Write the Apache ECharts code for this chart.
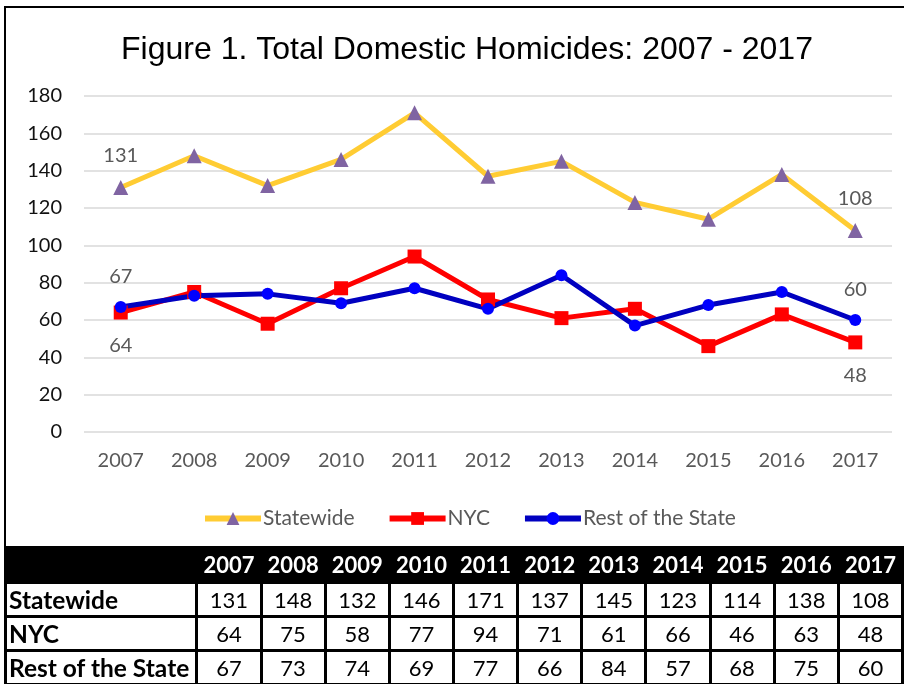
<!DOCTYPE html>
<html>
<head>
<meta charset="utf-8">
<script src="https://cdn.jsdelivr.net/npm/echarts@6/dist/echarts.min.js"></script>
<style>
  html, body { margin: 0; padding: 0; background: #fff; }
  #wrap { position: relative; width: 904px; height: 684px; overflow: hidden; }
  #chart { position: absolute; left: 0; top: 0; width: 904px; height: 684px; }
  #frame { position: absolute; left: 4px; top: 6px; width: 1000px; height: 538px;
           border: 2px solid #000; pointer-events: none; }
  #tbl { position: absolute; left: 4px; top: 546px; border-collapse: collapse;
         table-layout: fixed; font-family: Lato, "Open Sans", sans-serif; font-size: 22px; }
  #tbl td { border: 3px solid #000; height: 31px; padding: 0; text-align: center;
            color: #000; line-height: 28px; }
  #tbl tr.head td { background: #000; color: #fff; font-weight: bold; height: 32px; }
  #tbl td.name { text-align: left; font-weight: bold; padding-left: 2px; font-size: 24.5px; }
</style>
</head>
<body>
<div id="wrap">
  <div id="chart"></div>
  <div id="frame"></div>
  <table id="tbl"></table>
</div>
<script>
// ==========================
// DATA
// ==========================

const YEARS = ["2007", "2008", "2009", "2010", "2011", "2012", "2013", "2014", "2015", "2016", "2017"];
const STATEWIDE = [131, 148, 132, 146, 171, 137, 145, 123, 114, 138, 108];
const NYC = [64, 75, 58, 77, 94, 71, 61, 66, 46, 63, 48];
const REST = [67, 73, 74, 69, 77, 66, 84, 57, 68, 75, 60];

const SERIES_NAMES = ["Statewide", "NYC", "Rest of the State"];

// ==========================
// CHART
// ==========================

const chart = echarts.init(document.getElementById("chart"));

const FONT = "Lato, 'Open Sans', sans-serif";
const labelFont = { fontFamily: FONT, fontSize: 20, color: "#595959" };

// label only first and last points
function endLabels(values, pos, dist) {
  return values.map((v, i) => {
    if (i === 0 || i === values.length - 1) {
      return { value: v, label: { show: true, position: pos, distance: dist, ...labelFont } };
    }
    return v;
  });
}

chart.setOption({
  animation: false,
  title: {
    text: "Figure 1. Total Domestic Homicides: 2007 - 2017",
    left: 462,
    textAlign: "center",
    top: 29,
    textStyle: {
      fontFamily: "'Liberation Sans', Arial, sans-serif",
      fontWeight: "normal",
      fontSize: 32,
      color: "#000"
    }
  },
  legend: {
    top: 503,
    left: 197,
    itemWidth: 56,
    itemHeight: 16,
    itemGap: 32,
    textStyle: { fontFamily: FONT, fontSize: 21, color: "#595959", padding: [0, 0, 0, -3] },
    lineStyle: { width: 6 },
    data: SERIES_NAMES
  },
  grid: {
    left: 84,
    right: 12,
    top: 96,
    bottom: 252
  },
  xAxis: {
    type: "category",
    data: YEARS,
    boundaryGap: true,
    axisLine: { show: false },
    axisTick: { show: false },
    axisLabel: { margin: 19, fontFamily: FONT, fontSize: 20, color: "#595959" }
  },
  yAxis: {
    type: "value",
    min: 0,
    max: 180,
    interval: 20,
    axisLine: { show: false },
    axisTick: { show: false },
    axisLabel: { margin: 22, fontFamily: FONT, fontSize: 20, color: "#111" },
    splitLine: { lineStyle: { color: "#d9d9d9", width: 1.5 } }
  },
  series: [
    {
      name: "Statewide",
      type: "line",
      data: endLabels(STATEWIDE, "top", 14),
      symbol: "triangle",
      symbolSize: 15,
      lineStyle: { color: "#FFCC33", width: 5 },
      itemStyle: { color: "#8064A2" }
    },
    {
      name: "NYC",
      type: "line",
      data: endLabels(NYC, "bottom", 16),
      symbol: "rect",
      symbolSize: 14,
      lineStyle: { color: "#FF0000", width: 5 },
      itemStyle: { color: "#FF0000" }
    },
    {
      name: "Rest of the State",
      type: "line",
      data: endLabels(REST, "top", 14),
      symbol: "circle",
      symbolSize: 12,
      lineStyle: { color: "#0000C0", width: 5 },
      itemStyle: { color: "#0000FF" }
    }
  ]
});

// ==========================
// TABLE
// ==========================

const tbl = document.getElementById("tbl");
const colgroup = document.createElement("colgroup");
const c0 = document.createElement("col");
c0.style.width = "198px";
colgroup.appendChild(c0);
YEARS.forEach(() => {
  const c = document.createElement("col");
  c.style.width = "65px";
  colgroup.appendChild(c);
});
tbl.appendChild(colgroup);

function addRow(name, cells, cls) {
  const tr = document.createElement("tr");
  if (cls) tr.className = cls;
  const th = document.createElement("td");
  th.className = "name";
  th.textContent = name;
  tr.appendChild(th);
  cells.forEach(v => {
    const td = document.createElement("td");
    td.textContent = v;
    tr.appendChild(td);
  });
  tbl.appendChild(tr);
}

addRow("", YEARS, "head");
addRow("Statewide", STATEWIDE);
addRow("NYC", NYC);
addRow("Rest of the State", REST);
</script>
</body>
</html>
